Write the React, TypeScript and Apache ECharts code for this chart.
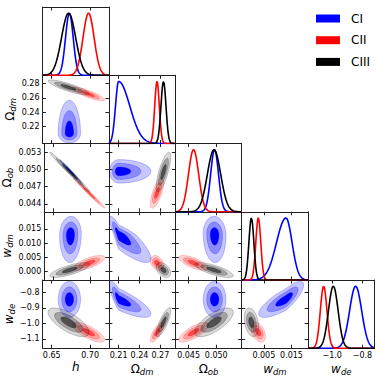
import React, { useEffect, useRef } from "react";
import * as echarts from "echarts";

// ---------- data ----------
const CASES = ["CI", "CII", "CIII"];
const CASE_COLORS = ["#0000ff", "#ff0000", "#000000"];

// parameter axis ranges (same for x and y use)
const RANGE_MIN = [0.638, 0.196, 0.0426, -0.003, -1.16];
const RANGE_MAX = [0.7245, 0.2915, 0.0546, 0.021, -0.72];

// tick values
const X_TICKS = [[0.65, 0.7], [0.21, 0.24, 0.27], [0.045, 0.05], [0.005, 0.015], [-1.0, -0.8]];
const Y_TICKS = [[], [0.22, 0.24, 0.26, 0.28], [0.044, 0.047, 0.05, 0.053], [0.0, 0.005, 0.01, 0.015], [-1.1, -1.0, -0.9, -0.8]];
const X_DEC = [2, 2, 3, 3, 1];
const Y_DEC = [2, 2, 3, 3, 1];

// posterior summaries per case: mode, lower / upper widths
const CI_MODE = [0.673, 0.21, 0.0497, 0.013, -0.845];
const CI_SIG_LO = [0.005, 0.0045, 0.00071, 0.0034, 0.04];
const CI_SIG_HI = [0.005, 0.016, 0.00071, 0.0022, 0.04];
const CII_MODE = [0.698, 0.2652, 0.0459, 0.003, -1.057];
const CII_SIG = [0.0072, 0.0033, 0.00092, 0.0009, 0.022];
const CIII_MODE = [0.672, 0.2745, 0.0496, 0.0005, -0.993];
const CIII_SIG = [0.0092, 0.0036, 0.0012, 0.0009, 0.032];

// correlations for pairs (0,1),(0,2),(0,3),(0,4),(1,2),(1,3),(1,4),(2,3),(2,4),(3,4)
const CI_CORR = [0.0, -0.99, 0.05, 0.0, 0.0, -0.85, -0.8, -0.05, 0.0, 0.8];
const CII_CORR = [-0.85, -0.99, 0.7, -0.75, 0.7, -0.3, 0.75, -0.7, 0.75, -0.4];
const CIII_CORR = [-0.85, -0.99, 0.75, -0.7, 0.75, -0.4, 0.8, -0.75, 0.7, -0.3];

// contour levels (in sigma units)
const LEVELS = [2.9, 2.0, 1.1];

const CASE_DATA = [
  { mode: CI_MODE, lo: CI_SIG_LO, hi: CI_SIG_HI, corr: CI_CORR },
  { mode: CII_MODE, lo: CII_SIG, hi: CII_SIG, corr: CII_CORR },
  { mode: CIII_MODE, lo: CIII_SIG, hi: CIII_SIG, corr: CIII_CORR },
];

// ---------- styles ----------
const FILLS = [
  ["rgba(0,0,255,0.22)", "rgba(0,0,255,0.30)", "rgba(0,0,255,1)"],
  ["rgba(255,0,0,0.17)", "rgba(255,0,0,0.25)", "rgba(255,0,0,0.55)"],
  ["rgba(0,0,0,0.15)", "rgba(0,0,0,0.25)", "rgba(0,0,0,0.51)"],
];
const STROKES = ["rgba(0,0,255,0.35)", "rgba(255,0,0,0.3)", "rgba(0,0,0,0.3)"];

const FONT = "DejaVu Sans";
const W = 66.4;
const H = 68.25;
const LEFT0 = 42.5;
const TOP0 = 7;

function pairIndex(a: number, b: number) {
  const list: number[][] = [];
  for (let i = 0; i < 5; i++) for (let j = i + 1; j < 5; j++) list.push([i, j]);
  return list.findIndex((p) => p[0] === a && p[1] === b);
}

function fmt(v: number, d: number) {
  return v.toFixed(d).replace("-", "\u2212");
}

const NAMES = [
  "{i|h}",
  "{m|\u03A9}{s|dm}",
  "{m|\u03A9}{s|ob}",
  "{i|w}{s|dm}",
  "{i|w}{s|de}",
];
const RICH = {
  i: { fontSize: 12, fontStyle: "italic", fontFamily: FONT, color: "#000" },
  m: { fontSize: 12, fontFamily: FONT, color: "#000" },
  s: { fontSize: 8.5, fontStyle: "italic", fontFamily: FONT, color: "#000", padding: [6, 0, 0, 0] },
};

function buildOption() {
  const grid: any[] = [];
  const xAxis: any[] = [];
  const yAxis: any[] = [];
  const series: any[] = [];
  let k = 0;
  for (let i = 0; i < 5; i++) {
    for (let j = 0; j <= i; j++) {
      grid.push({ left: LEFT0 + j * W, top: TOP0 + i * H, width: W, height: H, containLabel: false });
      const lineStyle = { color: "#222", width: 1 };
      const tick = (vals: number[]) => ({
        show: vals.length > 0,
        inside: true,
        length: 3.5,
        customValues: vals,
        lineStyle: { color: "#222", width: 1 },
      });
      const bottomRow = i === 4;
      xAxis.push({
        type: "value",
        gridIndex: k,
        position: "bottom",
        min: RANGE_MIN[j],
        max: RANGE_MAX[j],
        axisLine: { show: true, onZero: false, lineStyle },
        axisTick: tick(X_TICKS[j]),
        axisLabel: {
          show: bottomRow,
          customValues: X_TICKS[j],
          formatter: (v: number) => fmt(v, X_DEC[j]),
          fontSize: 8,
          fontFamily: FONT,
          color: "#000",
          margin: 3.5,
        },
        splitLine: { show: false },
        name: bottomRow ? NAMES[j] : "",
        nameLocation: "middle",
        nameGap: 13,
        nameTextStyle: { rich: RICH },
      });
      xAxis.push({
        type: "value",
        gridIndex: k,
        position: "top",
        min: RANGE_MIN[j],
        max: RANGE_MAX[j],
        axisLine: { show: true, onZero: false, lineStyle },
        axisTick: tick(X_TICKS[j]),
        axisLabel: { show: false },
        splitLine: { show: false },
      });
      const diag = i === j;
      const leftCol = j === 0 && i > 0;
      yAxis.push({
        type: "value",
        gridIndex: k,
        position: "left",
        min: diag ? 0 : RANGE_MIN[i],
        max: diag ? 1.1 : RANGE_MAX[i],
        axisLine: { show: true, onZero: false, lineStyle },
        axisTick: diag ? { show: false } : tick(Y_TICKS[i]),
        axisLabel: {
          show: leftCol,
          customValues: diag ? [] : Y_TICKS[i],
          formatter: (v: number) => fmt(v, Y_DEC[i]),
          fontSize: 8,
          fontFamily: FONT,
          color: "#000",
          margin: 3,
        },
        splitLine: { show: false },
        name: leftCol ? NAMES[i] : "",
        nameLocation: "middle",
        nameGap: 19,
        nameTextStyle: { rich: RICH },
      });
      yAxis.push({
        type: "value",
        gridIndex: k,
        position: "right",
        min: diag ? 0 : RANGE_MIN[i],
        max: diag ? 1.1 : RANGE_MAX[i],
        axisLine: { show: true, onZero: false, lineStyle },
        axisTick: diag ? { show: false } : tick(Y_TICKS[i]),
        axisLabel: { show: false },
        splitLine: { show: false },
      });

      const xi = 2 * k;
      if (diag) {
        CASE_DATA.forEach((cd, c) => {
          const pts: number[][] = [];
          const n = 160;
          for (let t = 0; t <= n; t++) {
            const x = RANGE_MIN[j] + ((RANGE_MAX[j] - RANGE_MIN[j]) * t) / n;
            const d = x - cd.mode[j];
            const s = d < 0 ? cd.lo[j] : cd.hi[j];
            pts.push([x, Math.exp(-0.5 * (d / s) * (d / s))]);
          }
          series.push({
            type: "line",
            name: CASES[c],
            xAxisIndex: xi,
            yAxisIndex: xi,
            data: pts,
            showSymbol: false,
            smooth: false,
            clip: true,
            lineStyle: { color: CASE_COLORS[c], width: 1.6 },
            itemStyle: { color: CASE_COLORS[c] },
            z: 3,
          });
        });
      } else {
        const px = j;
        const py = i;
        const pi = pairIndex(px, py);
        CASE_DATA.forEach((cd, c) => {
          const rho = cd.corr[pi];
          series.push({
            type: "custom",
            name: CASES[c],
            xAxisIndex: xi,
            yAxisIndex: xi,
            clip: true,
            silent: true,
            z: 2 + c,
            data: LEVELS.map((r, li) => [cd.mode[px], cd.mode[py], li]),
            encode: { x: 0, y: 1 },
            renderItem: (params: any, api: any) => {
              const li = params.dataIndex;
              const r = LEVELS[li];
              const points: number[][] = [];
              const n = 90;
              const q = Math.sqrt(1 - rho * rho);
              for (let t = 0; t < n; t++) {
                const th = (2 * Math.PI * t) / n;
                const a = r * Math.cos(th);
                const b = r * (rho * Math.cos(th) + q * Math.sin(th));
                let x = cd.mode[px] + a * (a < 0 ? cd.lo[px] : cd.hi[px]);
                let y = cd.mode[py] + b * (b < 0 ? cd.lo[py] : cd.hi[py]);
                x = Math.min(Math.max(x, RANGE_MIN[px]), RANGE_MAX[px]);
                y = Math.min(Math.max(y, RANGE_MIN[py]), RANGE_MAX[py]);
                points.push(api.coord([x, y]));
              }
              return {
                type: "polygon",
                shape: { points },
                style: { fill: FILLS[c][li], stroke: STROKES[c], lineWidth: 0.7 },
              };
            },
          });
        });
      }
      k++;
    }
  }
  return {
    animation: false,
    backgroundColor: "#fff",
    legend: {
      data: CASES.map((n, c) => ({ name: n, icon: "rect", itemStyle: { color: CASE_COLORS[c] } })),
      orient: "vertical",
      left: 316,
      top: 12.5,
      itemWidth: 24,
      itemHeight: 8,
      itemGap: 9.7,
      padding: 0,
      textStyle: { fontSize: 12, fontFamily: FONT, color: "#000", padding: [0, 0, 0, 6] },
      selectedMode: false,
    },
    grid,
    xAxis,
    yAxis,
    series,
  };
}

export default function App() {
  const ref = useRef<HTMLDivElement>(null);
  useEffect(() => {
    if (!ref.current) return;
    const chart = echarts.init(ref.current, undefined, { renderer: "svg" });
    chart.setOption(buildOption() as any);
    return () => chart.dispose();
  }, []);
  return (
    <div
      ref={ref}
      style={{ position: "absolute", left: 0, top: 0, width: 381, height: 381, background: "#fff" }}
    />
  );
}
